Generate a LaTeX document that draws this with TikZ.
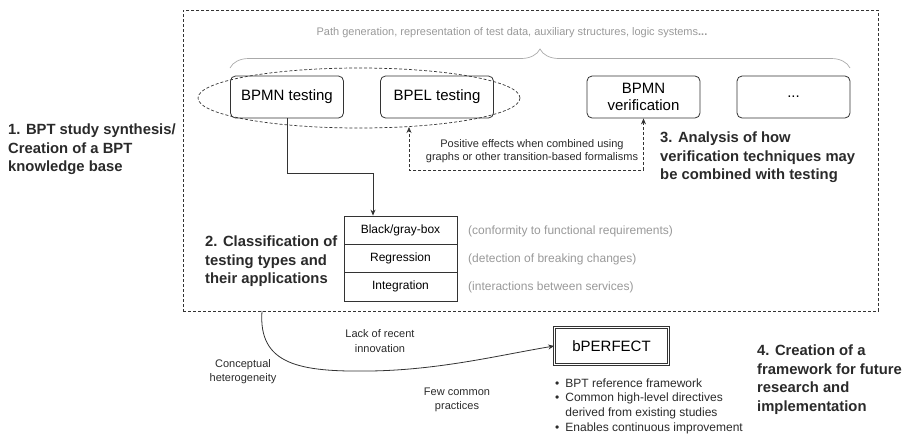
\documentclass[tikz,border=0pt]{standalone}
\usepackage{fontspec}
\setmainfont{Liberation Sans}
\usetikzlibrary{shapes.geometric,arrows.meta,decorations.pathreplacing,calc}
\definecolor{lgray}{HTML}{999999}
\definecolor{bgray}{HTML}{AAAAAA}
\definecolor{dtext}{HTML}{2A2A2A}
\definecolor{lne}{HTML}{333333}
\begin{document}
\begin{tikzpicture}[x=1pt,y=-1pt,
  rbox/.style={draw=lne, rounded corners=5pt, minimum width=113pt, minimum height=42pt, inner sep=0pt, align=center, font=\fontsize{15}{17.5}\selectfont, line width=0.8pt},
  dashln/.style={draw=lne, dash pattern=on 3pt off 2pt, line width=0.7pt},
  cell/.style={draw=lne, line width=0.8pt, minimum width=113pt, minimum height=28.33pt, inner sep=0pt, font=\fontsize{12}{14}\selectfont},
  glabel/.style={text=lgray, font=\fontsize{12}{14}\selectfont, anchor=west, inner sep=0pt},
  biglabel/.style={anchor=north west, align=left, inner sep=0pt, font=\fontsize{14.8}{18.7}\selectfont\bfseries, text=dtext},
  small/.style={align=center, inner sep=0pt, font=\fontsize{11}{14.5}\selectfont, text=dtext},
  tip/.style={-{Stealth[length=6pt,width=5pt]}}
]
\useasboundingbox (0,0) rectangle (905,437);

% outer frame
\node[dashln, minimum width=695pt, minimum height=301pt, anchor=north west, inner sep=0pt] (frame) at (183,10) {};

% top text and brace
\node[text=lgray, font=\fontsize{11}{13}\selectfont, inner sep=0pt] (pathtxt) at (512,33) {Path generation, representation of test data, auxiliary structures, logic systems\textbf{...}};
\draw[bgray, line width=0.7pt, decorate, decoration={brace, amplitude=19pt}] (230,68) -- (850,68);

% ellipse and boxes
\node[ellipse, dashln, minimum width=322pt, minimum height=60pt, inner sep=0pt] (ell) at (359,98) {};
\node[rbox] (bt) at (287,97) {BPMN testing};
\node[rbox] (bl) at (437,97) {BPEL testing};
\node[rbox] (bv) at (643.5,97) {BPMN\\verification};
\node[rbox] (etc) at (793.5,97) {...};

% dashed connector
\coordinate (dc) at (409,170);
\coordinate (ep) at (409,127);
\draw[dashln, {Stealth[length=6pt,width=5pt]}-{Stealth[length=6pt,width=5pt]}] (bv.south) |- (dc) -- (ep);
\node[small, font=\fontsize{11}{13.3}\selectfont] (pos) at (532,151.5) {Positive effects when combined using\\graphs or other transition-based formalisms};

% table
\node[cell] (c1) at (400.5,230.17) {Black/gray-box};
\node[cell] (c2) at (400.5,258.5) {Regression};
\node[cell] (c3) at (400.5,286.83) {Integration};
\node[glabel] (g1) at (468,231) {(conformity to functional requirements)};
\node[glabel] (g2) at (468,259) {(detection of breaking changes)};
\node[glabel] (g3) at (468,287) {(interactions between services)};

% solid connector
\coordinate (sc) at (373,173);
\draw[lne, line width=0.8pt, tip] (bt.south) |- (sc) -- (c1.north -| sc);

% big labels
\node[biglabel] (l1) at (8,123.5) {1. BPT study synthesis/\\Creation of a BPT\\knowledge base};
\node[biglabel] (l2) at (205,235.5) {2. Classification of\\testing types and\\their applications};
\node[biglabel] (l3) at (660,131.5) {3. Analysis of how\\verification techniques may\\be combined with testing};
\node[biglabel] (l4) at (757,344.5) {4. Creation of a\\framework for future\\research and\\implementation};

% bPERFECT
\node[draw=lne, double, double distance=1.5pt, line width=0.7pt, minimum width=114pt, minimum height=37pt, inner sep=0pt, font=\fontsize{15}{17}\selectfont] (bp) at (611.5,346) {bPERFECT};

% curve
\coordinate (cs) at (262,311);
\draw[lne, line width=0.8pt, tip] (cs) .. controls (258,365) and (300,372) .. (370,371) .. controls (440,370) and (500,355) .. (bp.west);

\node[small] (lack) at (380,341) {Lack of recent\\innovation};
\node[small, font=\fontsize{11}{14}\selectfont] (conc) at (243,372) {Conceptual\\heterogeneity};
\node[small] (few) at (457,400) {Few common\\practices};

% bullets
\node[anchor=north west, inner sep=0pt, font=\fontsize{12}{14.8}\selectfont, text=dtext] (bul) at (555,376.5) {\begin{tabular}{@{}l@{\hspace{6pt}}l@{}}\textbullet & BPT reference framework\\ \textbullet & Common high-level directives\\ & derived from existing studies\\ \textbullet & Enables continuous improvement\end{tabular}};
\end{tikzpicture}
\end{document}
